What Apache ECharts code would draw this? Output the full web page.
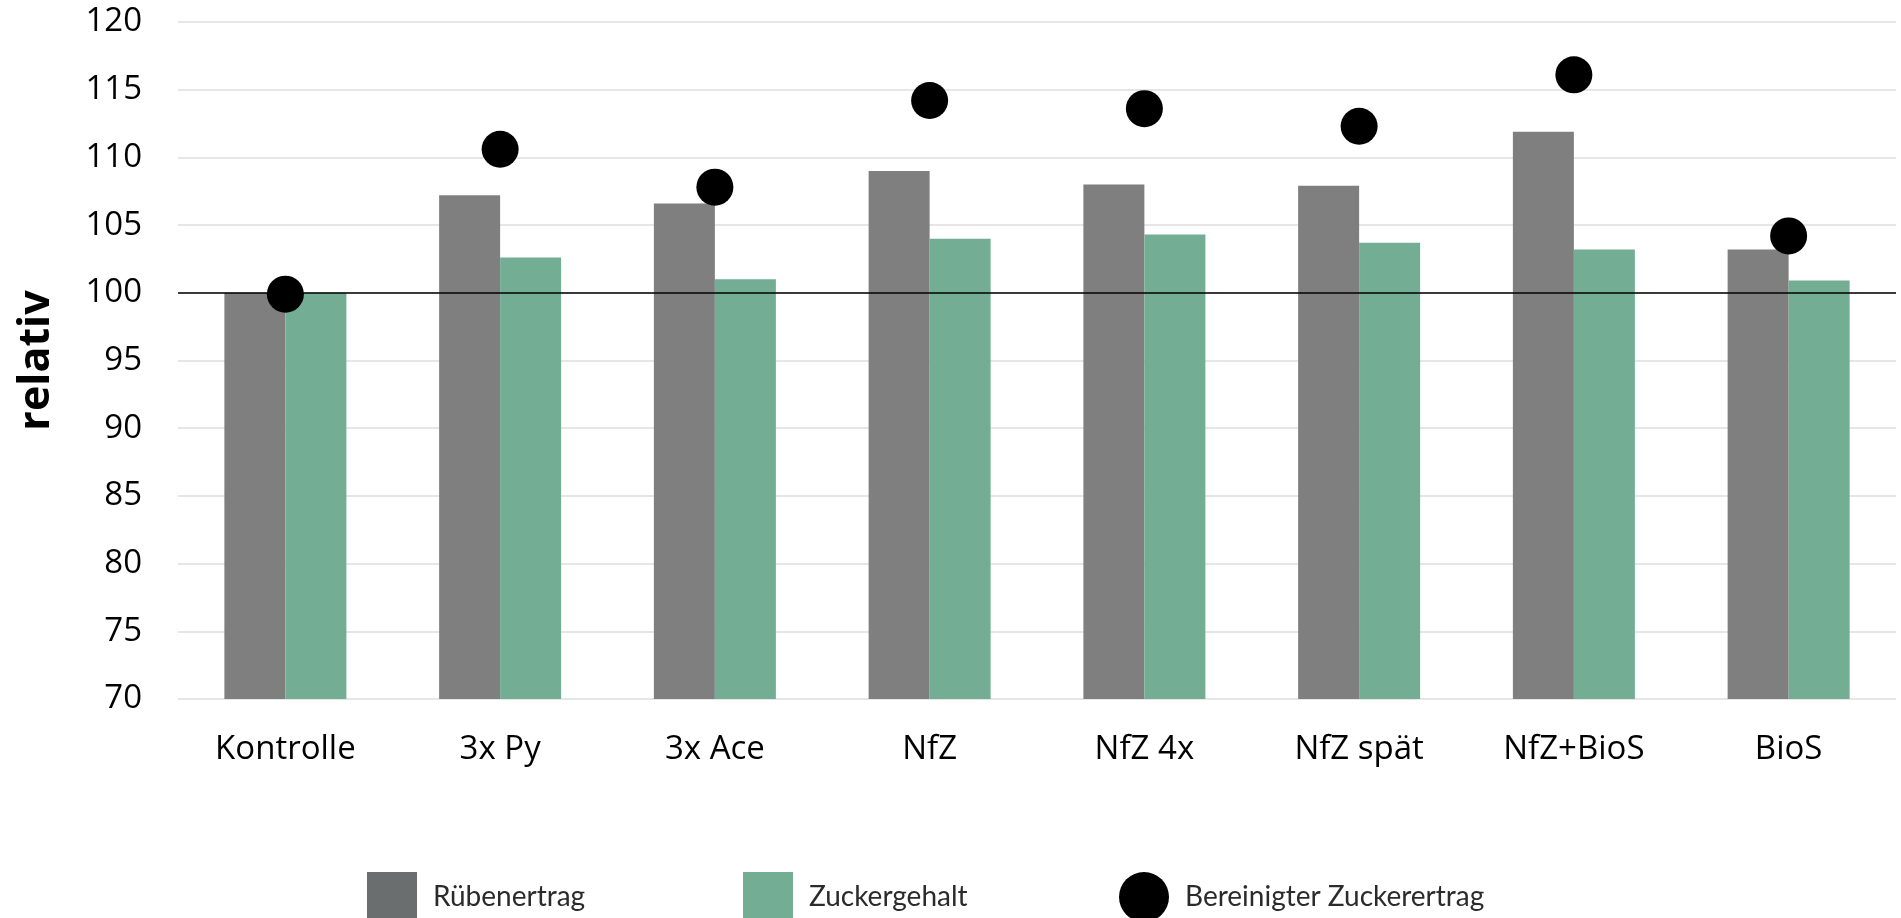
<!DOCTYPE html>
<html>
<head>
<meta charset="utf-8">
<script src="https://cdn.jsdelivr.net/npm/echarts@6/dist/echarts.min.js"></script>
<style>
html,body{margin:0;padding:0;background:#fff;}
#chart{width:1901px;height:918px;}
</style>
</head>
<body>
<div id="chart"></div>
<script>
const categories = ['Kontrolle', '3x Py', '3x Ace', 'NfZ', 'NfZ 4x', 'NfZ spät', 'NfZ+BioS', 'BioS'];
const ruebenertrag = [100, 107.2, 106.6, 109.0, 108.0, 107.9, 111.9, 103.2];
const zuckergehalt = [100, 102.6, 101.0, 104.0, 104.3, 103.7, 103.2, 100.9];
const bereinigterZuckerertrag = [99.9, 110.6, 107.8, 114.2, 113.6, 112.3, 116.1, 104.2];
const yTicks = { min: 70, max: 120, interval: 5 };
const referenceLine = 100;

const chart = echarts.init(document.getElementById('chart'), null, { renderer: 'canvas' });
const axisFont = "'Open Sans', sans-serif";
const legendText = {
  fontFamily: "Lato, sans-serif",
  fontSize: 28,
  color: '#2b2b2b',
  padding: [0, 0, 0, 11]
};
function makeLegend(name, icon, color, left) {
  return {
    top: 872,
    left: left,
    padding: 0,
    itemWidth: 50,
    itemHeight: 50,
    selectedMode: false,
    textStyle: legendText,
    data: [{ name: name, icon: icon, itemStyle: { color: color } }]
  };
}
chart.setOption({
  animation: false,
  backgroundColor: '#ffffff',
  grid: { left: 178, right: 5, top: 22, bottom: 219 },
  legend: [
    makeLegend('Rübenertrag', 'rect', '#6a6e6e', 367),
    makeLegend('Zuckergehalt', 'rect', '#72ad94', 743),
    makeLegend('Bereinigter Zuckerertrag', 'circle', '#000000', 1119)
  ],
  xAxis: {
    type: 'category',
    data: categories,
    axisLine: { show: false },
    axisTick: { show: false },
    axisLabel: { fontFamily: axisFont, fontSize: 33, color: '#000', margin: 34 }
  },
  yAxis: {
    type: 'value',
    min: yTicks.min,
    max: yTicks.max,
    interval: yTicks.interval,
    name: 'relativ',
    nameLocation: 'middle',
    nameGap: 120,
    nameTextStyle: { fontFamily: axisFont, fontSize: 43, fontWeight: 'bold', color: '#000' },
    axisLine: { show: false },
    axisTick: { show: false },
    axisLabel: { fontFamily: axisFont, fontSize: 33, color: '#000', margin: 36 },
    splitLine: { lineStyle: { color: '#dedede', width: 1.5 } }
  },
  series: [
    {
      name: 'Rübenertrag',
      type: 'bar',
      data: ruebenertrag,
      barWidth: 61,
      barGap: '0%',
      itemStyle: { color: '#7f7f7f' },
      z: 2
    },
    {
      name: 'Zuckergehalt',
      type: 'bar',
      data: zuckergehalt,
      barWidth: 61,
      barGap: '0%',
      itemStyle: { color: '#72ad94' },
      z: 2,
      markLine: {
        silent: true,
        symbol: 'none',
        label: { show: false },
        lineStyle: { color: '#000', width: 1.5, type: 'solid' },
        data: [{ yAxis: referenceLine }],
        z: 3
      }
    },
    {
      name: 'Bereinigter Zuckerertrag',
      type: 'scatter',
      data: bereinigterZuckerertrag,
      symbol: 'circle',
      symbolSize: 37,
      itemStyle: { color: '#000000', opacity: 1 },
      z: 5
    }
  ]
});
</script>
</body>
</html>
